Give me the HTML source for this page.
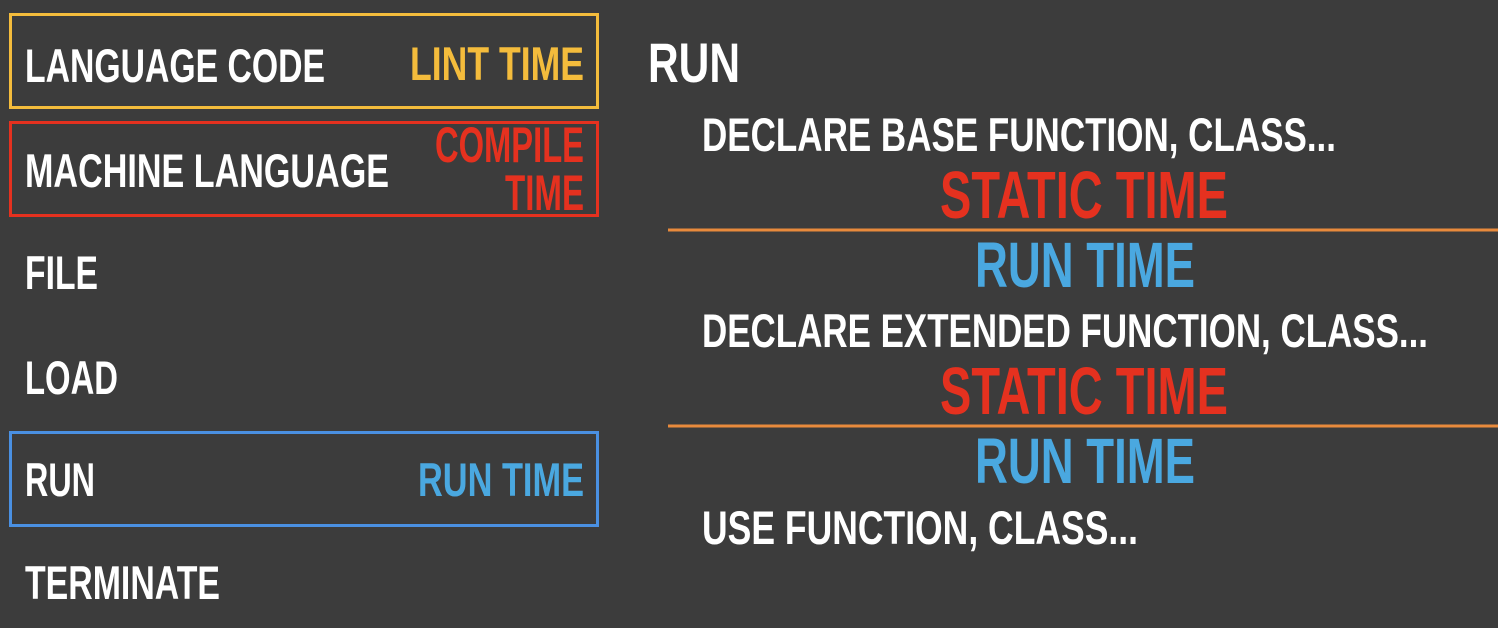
<!DOCTYPE html>
<html><head><meta charset="utf-8"><style>
html,body{margin:0;padding:0;background:#3c3c3c;}
svg{display:block;}
text{font-family:"Liberation Sans",sans-serif;font-weight:bold;}
</style></head><body>
<svg width="1498" height="628" viewBox="0 0 1498 628" xmlns="http://www.w3.org/2000/svg">
<rect width="1498" height="628" fill="#3c3c3c"/>
<rect x="10.5" y="14.5" width="587" height="93" fill="none" stroke="#f4bc3c" stroke-width="3"/>
<rect x="10.5" y="122.5" width="587" height="93" fill="none" stroke="#e5311f" stroke-width="3"/>
<rect x="10.5" y="432.5" width="587" height="93" fill="none" stroke="#4a90e2" stroke-width="3"/>
<g fill="#ffffff" font-size="47">
<text x="25" y="82" textLength="300" lengthAdjust="spacingAndGlyphs">LANGUAGE CODE</text>
<text x="25" y="187" textLength="364" lengthAdjust="spacingAndGlyphs">MACHINE LANGUAGE</text>
<text x="25" y="289" textLength="73" lengthAdjust="spacingAndGlyphs">FILE</text>
<text x="25" y="394" textLength="93" lengthAdjust="spacingAndGlyphs">LOAD</text>
<text x="25" y="496" textLength="70" lengthAdjust="spacingAndGlyphs">RUN</text>
<text x="25" y="599" textLength="195" lengthAdjust="spacingAndGlyphs">TERMINATE</text>
<text x="702" y="151" textLength="634" lengthAdjust="spacingAndGlyphs">DECLARE BASE FUNCTION, CLASS...</text>
<text x="702" y="347" textLength="726" lengthAdjust="spacingAndGlyphs">DECLARE EXTENDED FUNCTION, CLASS...</text>
<text x="702" y="544" textLength="436" lengthAdjust="spacingAndGlyphs">USE FUNCTION, CLASS...</text>
</g>
<text x="648" y="82" font-size="56" fill="#ffffff" textLength="92" lengthAdjust="spacingAndGlyphs">RUN</text>
<text x="410" y="80" font-size="47" fill="#f4bc3c" textLength="174" lengthAdjust="spacingAndGlyphs">LINT TIME</text>
<text x="435" y="162" font-size="50" fill="#e5311f" textLength="149" lengthAdjust="spacingAndGlyphs">COMPILE</text>
<text x="505" y="210" font-size="50" fill="#e5311f" textLength="79" lengthAdjust="spacingAndGlyphs">TIME</text>
<text x="418" y="496" font-size="47" fill="#4aa8e0" textLength="166" lengthAdjust="spacingAndGlyphs">RUN TIME</text>
<text x="940" y="218" font-size="67" fill="#e5311f" textLength="288" lengthAdjust="spacingAndGlyphs">STATIC TIME</text>
<text x="975" y="287" font-size="64" fill="#4aa8e0" textLength="220" lengthAdjust="spacingAndGlyphs">RUN TIME</text>
<text x="940" y="414" font-size="67" fill="#e5311f" textLength="288" lengthAdjust="spacingAndGlyphs">STATIC TIME</text>
<text x="975" y="483" font-size="64" fill="#4aa8e0" textLength="220" lengthAdjust="spacingAndGlyphs">RUN TIME</text>
<line x1="668" y1="230" x2="1498" y2="230" stroke="#e88a3c" stroke-width="3"/>
<line x1="668" y1="426" x2="1498" y2="426" stroke="#e88a3c" stroke-width="3"/>
</svg>
</body></html>
